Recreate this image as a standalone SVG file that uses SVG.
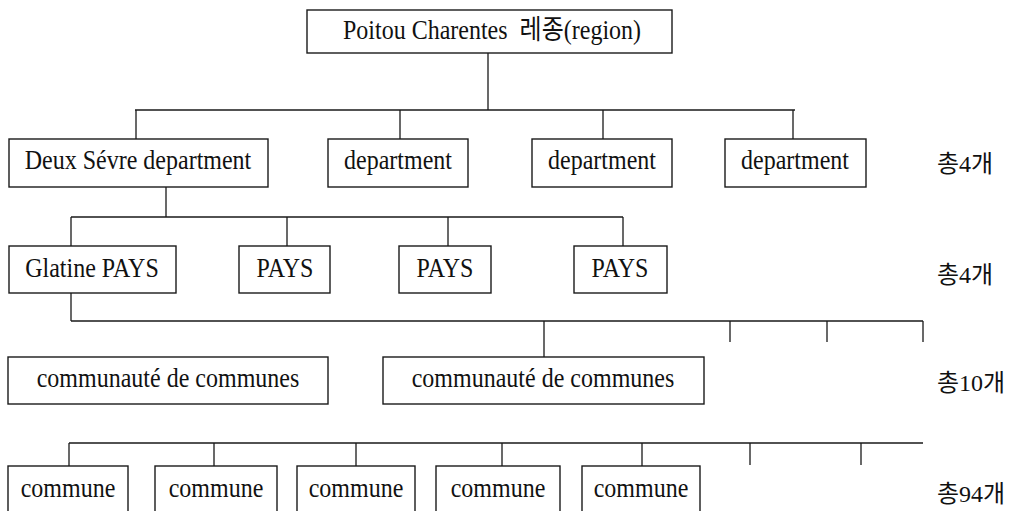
<svg xmlns="http://www.w3.org/2000/svg" width="1015" height="511" viewBox="0 0 1015 511">
  <style>
    .box { fill: #fff; stroke: #1a1a1a; stroke-width: 1.4; }
    .lbl { font-family: "Liberation Serif", "Noto Sans CJK KR", serif; font-size: 24px; fill: #111; text-anchor: middle; }
    .cnt { font-family: "Liberation Serif", "Noto Sans CJK KR", serif; font-size: 24px; fill: #111; }
    .wire { fill: none; stroke: #1a1a1a; stroke-width: 1.3; }
  </style>
  <rect width="1015" height="511" fill="#fff"/>

  <!-- connectors -->
  <g id="connectors" class="wire">
    <!-- region to departments -->
    <path d="M488 53 V110 M135 110 H795 M136 110 V139 M400 110 V139 M603 110 V139 M793 110 V139"/>
    <!-- department to pays -->
    <path d="M166 187 V217 M71 217 H623 M71 217 V246 M287 217 V246 M448 217 V246 M623 217 V246"/>
    <!-- pays to communautés -->
    <path d="M71 293 V321 M71 321 H923 M544 321 V357 M730 321 V342 M827 321 V342 M923 321 V342"/>
    <!-- communes -->
    <path d="M69 443 H923 M69 443 V466 M214 443 V466 M356 443 V466 M502 443 V466 M642 443 V466 M750 443 V465 M861 443 V465"/>
  </g>

  <!-- level 1 -->
  <g id="region">
    <rect class="box" x="307" y="10" width="365" height="43"/>
    <text class="lbl" transform="translate(492 39) scale(1 1.15)">Poitou Charentes &#160;레종(region)</text>
  </g>

  <!-- level 2 -->
  <g id="dept-deux-sevre">
    <rect class="box" x="9" y="139" width="259" height="48"/>
    <text class="lbl" transform="translate(138 169) scale(1 1.15)">Deux Sévre department</text>
  </g>
  <g id="dept-2">
    <rect class="box" x="328" y="139" width="140" height="48"/>
    <text class="lbl" transform="translate(398 169) scale(1 1.15)">department</text>
  </g>
  <g id="dept-3">
    <rect class="box" x="532" y="139" width="140" height="48"/>
    <text class="lbl" transform="translate(602 169) scale(1 1.15)">department</text>
  </g>
  <g id="dept-4">
    <rect class="box" x="725" y="139" width="141" height="48"/>
    <text class="lbl" transform="translate(795 169) scale(1 1.15)">department</text>
  </g>
  <text id="count-dept" class="cnt" transform="translate(937 172)">총4개</text>

  <!-- level 3 -->
  <g id="pays-glatine">
    <rect class="box" x="9" y="246" width="167" height="47"/>
    <text class="lbl" transform="translate(92 277) scale(1 1.15)">Glatine PAYS</text>
  </g>
  <g id="pays-2">
    <rect class="box" x="239" y="246" width="91" height="47"/>
    <text class="lbl" transform="translate(285 277) scale(1 1.15)">PAYS</text>
  </g>
  <g id="pays-3">
    <rect class="box" x="399" y="246" width="92" height="47"/>
    <text class="lbl" transform="translate(445 277) scale(1 1.15)">PAYS</text>
  </g>
  <g id="pays-4">
    <rect class="box" x="574" y="246" width="93" height="47"/>
    <text class="lbl" transform="translate(620 277) scale(1 1.15)">PAYS</text>
  </g>
  <text id="count-pays" class="cnt" transform="translate(937 283)">총4개</text>

  <!-- level 4 -->
  <g id="cc-1">
    <rect class="box" x="8" y="357" width="320" height="47"/>
    <text class="lbl" transform="translate(168 387) scale(1 1.15)">communauté de communes</text>
  </g>
  <g id="cc-2">
    <rect class="box" x="383" y="357" width="321" height="47"/>
    <text class="lbl" transform="translate(543 387) scale(1 1.15)">communauté de communes</text>
  </g>
  <text id="count-cc" class="cnt" transform="translate(937 391)">총10개</text>

  <!-- level 5 -->
  <g id="commune-1">
    <rect class="box" x="8" y="466" width="120" height="60"/>
    <text class="lbl" transform="translate(68 497) scale(1 1.15)">commune</text>
  </g>
  <g id="commune-2">
    <rect class="box" x="155" y="466" width="122" height="60"/>
    <text class="lbl" transform="translate(216 497) scale(1 1.15)">commune</text>
  </g>
  <g id="commune-3">
    <rect class="box" x="297" y="466" width="118" height="60"/>
    <text class="lbl" transform="translate(356 497) scale(1 1.15)">commune</text>
  </g>
  <g id="commune-4">
    <rect class="box" x="436" y="466" width="124" height="60"/>
    <text class="lbl" transform="translate(498 497) scale(1 1.15)">commune</text>
  </g>
  <g id="commune-5">
    <rect class="box" x="582" y="466" width="118" height="60"/>
    <text class="lbl" transform="translate(641 497) scale(1 1.15)">commune</text>
  </g>
  <text id="count-commune" class="cnt" transform="translate(937 502)">총94개</text>
</svg>
